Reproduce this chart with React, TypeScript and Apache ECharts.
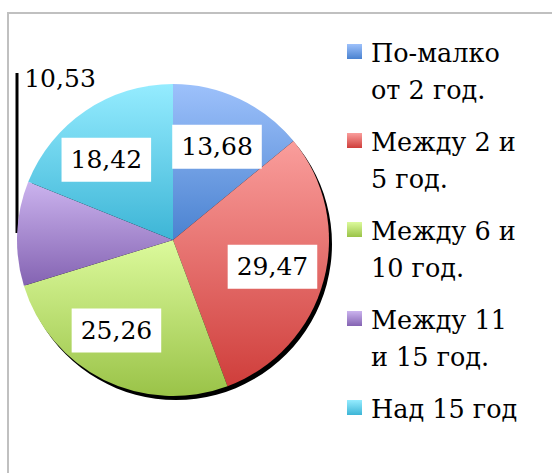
import React, { useEffect, useRef } from "react";
import * as echarts from "echarts";

const categories = [
  "По-малко\nот 2 год.",
  "Между 2 и\n5 год.",
  "Между 6 и\n10 год.",
  "Между 11\nи 15 год.",
  "Над 15 год",
];
const values = [13.68, 29.47, 25.26, 10.53, 18.42];
const topColors = ["#9dc1fb", "#fa9e9c", "#dcfa9c", "#cbb3ee", "#95ecff"];
const bottomColors = ["#4a82d0", "#cf3e3b", "#9ac348", "#8463b2", "#3db5d6"];

const fmt = (v: number) => v.toFixed(2).replace(".", ",");

export default function App() {
  const ref = useRef<HTMLDivElement>(null);
  useEffect(() => {
    document.body.style.margin = "0";
    const chart = echarts.init(ref.current!, null, { renderer: "svg" });
    const grad = (i: number, y0 = 0, y1 = 1) =>
      new echarts.graphic.LinearGradient(0, y0, 0, y1, [
        { offset: 0, color: topColors[i] },
        { offset: 1, color: bottomColors[i] },
      ]);
    const data = categories.map((name, i) => ({
      name,
      value: values[i],
      itemStyle: { color: grad(i) },
    }));
    const labelData = categories.map((name, i) => ({
      name,
      value: values[i],
      label:
        i === 3
          ? { backgroundColor: "transparent", padding: 0 }
          : undefined,
    }));
    const font = "DejaVu Serif";
    const iconPath = "path://M0,0L19,0M0,10L15,10L15,25L0,25ZM0,74L19,74";
    chart.setOption({
      animation: false,
      backgroundColor: "#ffffff",
      textStyle: { fontFamily: font },
      legend: {
        orient: "vertical",
        left: 347,
        top: 34,
        height: 440,
        padding: 0,
        itemWidth: 19,
        itemHeight: 74,
        itemGap: 15,
        selectedMode: false,
        formatter: (name: string) =>
          name.indexOf("\n") >= 0 ? name : name + "\n ",
        data: categories.map((name, i) => ({
          name,
          icon: iconPath,
          itemStyle: { color: grad(i, 10 / 74, 25 / 74), borderWidth: 0 },
        })),
        textStyle: {
          fontFamily: font,
          fontSize: 25.5,
          lineHeight: 37,
          color: "#000",
        },
      },
      graphic: [
        {
          type: "rect",
          shape: { x: 8, y: 13, width: 600, height: 600 },
          style: { fill: "none", stroke: "#c0c0c0", lineWidth: 2 },
          z: 0,
        },
        {
          type: "line",
          shape: { x1: 17, y1: 73, x2: 17, y2: 233 },
          style: { stroke: "#000", lineWidth: 3 },
          z: 0,
        },
      ],
      series: [
        {
          type: "pie",
          name: "shadow",
          center: [176, 244],
          radius: 156,
          silent: true,
          z: 1,
          label: { show: false },
          labelLine: { show: false },
          itemStyle: { color: "#000" },
          data: [{ name: "shadow", value: 1 }],
        },
        {
          type: "pie",
          center: [173, 240],
          radius: 156,
          startAngle: 90,
          clockwise: true,
          z: 2,
          silent: true,
          label: { show: false },
          labelLine: { show: false },
          itemStyle: { borderWidth: 0 },
          data,
        },
        {
          type: "pie",
          center: [173, 240],
          radius: [44, 156],
          startAngle: 90,
          clockwise: true,
          z: 3,
          silent: true,
          itemStyle: { color: "rgba(0,0,0,0)" },
          labelLine: { show: false },
          label: {
            show: true,
            position: "inside",
            formatter: (p: any) => fmt(p.value),
            fontFamily: font,
            fontSize: 25,
            lineHeight: 32,
            color: "#000",
            backgroundColor: "#fff",
            padding: [7, 9, 5, 9],
          },
          labelLayout: (p: any) => {
            if (p.dataIndex === 3)
              return { x: 60, y: 78, align: "center", verticalAlign: "middle" };
            if (p.dataIndex === 2) return { dx: -11, dy: -2 };
            if (p.dataIndex === 4) return { dx: -9, dy: 5 };
            return {};
          },
          data: labelData,
        },
      ],
    });
    return () => chart.dispose();
  }, []);
  return <div ref={ref} style={{ width: 552, height: 473 }} />;
}
